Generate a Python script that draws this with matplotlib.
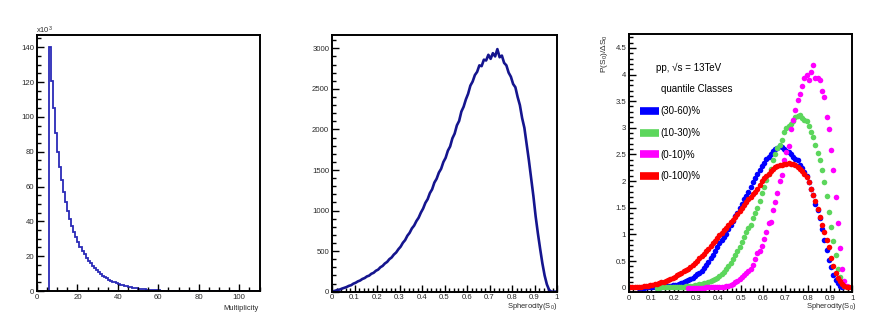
import numpy as np
import matplotlib
matplotlib.use("Agg")
import matplotlib.pyplot as plt
from matplotlib.ticker import MultipleLocator
from matplotlib.lines import Line2D

plt.rcParams['font.family'] = ['Liberation Sans', 'DejaVu Sans']
plt.rcParams['mathtext.fontset'] = 'custom'
plt.rcParams['mathtext.rm'] = 'Liberation Sans'
plt.rcParams['mathtext.it'] = 'Liberation Sans'

nan = np.nan

# ---------------- Panel 1: multiplicity histogram (x10^3) ----------------
mult_edges_start = 6
mult_counts = [140, 120.5, 105, 91, 80, 71, 63.5, 57, 51, 46, 41.5, 37.5, 34, 31, 28,
               25.5, 23, 21, 19, 17.5, 16, 14.5, 13.2, 12, 10.8, 9.8, 8.9, 8.1, 7.3,
               6.6, 6.0, 5.4, 4.9, 4.4, 4.0, 3.6, 3.2, 2.9, 2.6, 2.3, 2.1, 1.9, 1.7,
               1.5, 1.3, 1.15, 1.0, 0.9, 0.8, 0.7, 0.6, 0.52, 0.45, 0.38, 0.32, 0.27,
               0.23, 0.19, 0.16, 0.13, 0.11, 0.09, 0.07, 0.05, 0.04]

# ---------------- Panel 2: spherocity histogram ----------------
sph_counts = [5, 12, 22, 27, 39, 48, 58, 72, 80, 99,
              110, 127, 138, 157, 168, 188, 198, 221, 233, 258,
              272, 301, 318, 348, 367, 401, 422, 458, 483, 523,
              555, 603, 636, 690, 726, 780, 815, 870, 912, 975,
              1025, 1095, 1140, 1215, 1262, 1345, 1392, 1468, 1515, 1598,
              1650, 1738, 1790, 1890, 1948, 2050, 2105, 2220, 2280, 2370,
              2440, 2540, 2590, 2670, 2710, 2790, 2780, 2860, 2850, 2920,
              2870, 2940, 2900, 2990, 2890, 2910, 2820, 2790, 2700, 2650,
              2560, 2520, 2400, 2300, 2140, 2020, 1820, 1620, 1400, 1180,
              930, 720, 530, 350, 200, 90, 22, 0, 0, 0]

# ---------------- Panel 3: normalised spherocity per quantile class ----------------
nbins3 = 100
blue_3060 = [nan, nan, nan, nan, 0.002, 0.003, 0.004, 0.005, 0.006, 0.008,
             0.010, 0.012, 0.014, 0.017, 0.020, 0.024, 0.028, 0.032, 0.037, 0.042,
             0.050, 0.058, 0.068, 0.080, 0.100, 0.120, 0.140, 0.165, 0.190, 0.220,
             0.250, 0.280, 0.320, 0.370, 0.420, 0.480, 0.550, 0.620, 0.690, 0.760,
             0.830, 0.900, 0.960, 1.010, 1.100, 1.180, 1.260, 1.340, 1.410, 1.500,
             1.580, 1.660, 1.730, 1.800, 1.890, 1.980, 2.060, 2.130, 2.200, 2.280,
             2.340, 2.420, 2.460, 2.510, 2.560, 2.600, 2.630, 2.650, 2.640, 2.610,
             2.570, 2.540, 2.500, 2.460, 2.420, 2.390, 2.310, 2.250, 2.180, 2.100,
             1.980, 1.860, 1.740, 1.580, 1.450, 1.300, 1.100, 0.900, 0.700, 0.520,
             0.380, 0.240, 0.140, 0.080, 0.030, 0.010, nan, nan, nan, nan]
green_1030 = [nan] * 12 + [
             0.003, 0.004, 0.005, 0.006, 0.007, 0.008, 0.009, 0.010,
             0.011, 0.012, 0.015, 0.018, 0.022, 0.026, 0.030, 0.035, 0.040, 0.046,
             0.055, 0.062, 0.072, 0.082, 0.094, 0.105, 0.120, 0.140, 0.165, 0.190,
             0.220, 0.255, 0.290, 0.350, 0.410, 0.470, 0.540, 0.610, 0.690, 0.770,
             0.850, 0.950, 1.050, 1.120, 1.170, 1.300, 1.400, 1.500, 1.620, 1.780,
             1.890, 2.020, 2.130, 2.230, 2.400, 2.500, 2.620, 2.680, 2.770, 2.920,
             3.000, 3.030, 3.080, 3.120, 3.200, 3.230, 3.240, 3.180, 3.140, 3.120,
             3.030, 2.920, 2.820, 2.670, 2.530, 2.390, 2.210, 1.980, 1.730, 1.430,
             1.140, 0.870, 0.610, 0.360, 0.200, 0.080, 0.030, 0.010, nan, nan]
magenta_010 = [nan] * 26 + [
             0.002, 0.002, 0.002, 0.003,
             0.003, 0.003, 0.004, 0.004, 0.005, 0.006, 0.007, 0.008, 0.009, 0.011,
             0.013, 0.016, 0.019, 0.025, 0.035, 0.050, 0.075, 0.100, 0.130, 0.160,
             0.200, 0.230, 0.280, 0.320, 0.360, 0.420, 0.530, 0.660, 0.680, 0.790,
             0.920, 1.040, 1.210, 1.230, 1.450, 1.610, 1.780, 2.000, 2.110, 2.400,
             2.550, 2.650, 2.970, 3.140, 3.330, 3.520, 3.630, 3.780, 3.940, 3.990,
             3.900, 4.050, 4.180, 3.930, 3.930, 3.900, 3.690, 3.570, 3.200, 2.970,
             2.590, 2.200, 1.710, 1.210, 0.740, 0.360, 0.120, 0.030, nan, nan]
red_0100 = [0.005, 0.008, 0.010, 0.013, 0.016, 0.020, 0.025, 0.030, 0.037, 0.045,
            0.053, 0.062, 0.075, 0.090, 0.100, 0.115, 0.130, 0.150, 0.170, 0.190,
            0.210, 0.230, 0.255, 0.280, 0.305, 0.330, 0.360, 0.390, 0.430, 0.470,
            0.510, 0.550, 0.590, 0.640, 0.680, 0.730, 0.780, 0.830, 0.880, 0.930,
            0.980, 1.030, 1.080, 1.130, 1.180, 1.230, 1.280, 1.330, 1.380, 1.440,
            1.500, 1.560, 1.610, 1.660, 1.710, 1.760, 1.800, 1.850, 1.930, 2.000,
            2.050, 2.100, 2.140, 2.190, 2.230, 2.260, 2.280, 2.300, 2.310, 2.320,
            2.330, 2.340, 2.330, 2.320, 2.300, 2.270, 2.230, 2.190, 2.140, 2.080,
            1.980, 1.860, 1.740, 1.620, 1.480, 1.320, 1.170, 1.040, 0.900, 0.760,
            0.560, 0.400, 0.270, 0.190, 0.130, 0.070, 0.030, 0.015, 0.010, nan]

series_labels = ['(30-60)%', '(10-30)%', '(0-10)%', '(0-100)%']
series_colors = ['#0000ff', '#5cd65c', '#ff00ff', '#ff0000']
series_values = [blue_3060, green_1030, magenta_010, red_0100]

# ---------------- figure ----------------
W, H = 889, 327
fig = plt.figure(figsize=(W / 100, H / 100), dpi=100)


def fx(x):
    return x / W


def fy(y):
    return 1 - y / H


def make_ax(l, t, r, b):
    return fig.add_axes([fx(l), fy(b), fx(r) - fx(l), fy(t) - fy(b)])


tick_fs = 5.6
tick_col = '#2a2a2a'


def style(ax):
    for s in ax.spines.values():
        s.set_linewidth(1.4)
        s.set_color('black')
    ax.tick_params(which='both', direction='in', top=False, right=False,
                   labelsize=tick_fs, labelcolor=tick_col, width=1.0, pad=2)
    ax.tick_params(which='major', length=5)
    ax.tick_params(which='minor', length=2.6)


# Panel 1
ax1 = make_ax(37, 35, 259.5, 291)
edges1 = np.arange(mult_edges_start, mult_edges_start + len(mult_counts) + 1)
ax1.stairs(mult_counts, edges1, color='#2b2bb8', lw=1.3, baseline=0)
ax1.plot([edges1[-1], 110], [0, 0], color='#2b2bb8', lw=1.3)
ax1.set_xlim(0, 110)
ax1.set_ylim(0, 147)
ax1.xaxis.set_major_locator(MultipleLocator(20))
ax1.xaxis.set_minor_locator(MultipleLocator(5))
ax1.yaxis.set_major_locator(MultipleLocator(20))
ax1.yaxis.set_minor_locator(MultipleLocator(5))
style(ax1)
fig.text(fx(36), fy(33), r'x10$^{3}$', fontsize=5.4, color=tick_col, ha='left', va='baseline')
fig.text(fx(259), fy(308), 'Multiplicity', fontsize=5.4, color=tick_col, ha='right', va='center')

# Panel 2
ax2 = make_ax(332, 35, 557, 291.7)
centers2 = (np.arange(len(sph_counts)) + 0.5) / len(sph_counts)
ax2.plot(centers2, sph_counts, color='#15158e', lw=1.9)
ax2.set_xlim(0, 1)
ax2.set_ylim(0, 3164)
ax2.xaxis.set_major_locator(MultipleLocator(0.1))
ax2.xaxis.set_minor_locator(MultipleLocator(0.02))
ax2.yaxis.set_major_locator(MultipleLocator(500))
ax2.yaxis.set_minor_locator(MultipleLocator(100))
ax2.xaxis.set_major_formatter(lambda v, p: ('%g' % round(v, 2)))
style(ax2)
fig.text(fx(557), fy(306), r'Spherocity(S$_{0}$)', fontsize=5.4, color=tick_col, ha='right', va='center')

# Panel 3
ax3 = make_ax(629, 34, 852.3, 292)
centers3 = (np.arange(nbins3) + 0.5) / nbins3
for vals, col in zip(series_values, series_colors):
    ax3.plot(centers3, vals, 'o', color=col, ms=4.0, mew=0, ls='none')
ax3.set_xlim(0, 1)
ax3.set_ylim(-0.08, 4.76)
ax3.xaxis.set_major_locator(MultipleLocator(0.1))
ax3.xaxis.set_minor_locator(MultipleLocator(0.02))
ax3.yaxis.set_major_locator(MultipleLocator(0.5))
ax3.yaxis.set_minor_locator(MultipleLocator(0.1))
ax3.xaxis.set_major_formatter(lambda v, p: ('%g' % round(v, 2)))
ax3.yaxis.set_major_formatter(lambda v, p: ('%g' % round(v, 2)))
style(ax3)
fig.text(fx(856), fy(307), r'Spherocity(S$_{0}$)', fontsize=5.4, color=tick_col, ha='right', va='center')
fig.text(fx(605), fy(34), r'P(S$_{0}$)/$\Delta$S$_{0}$', fontsize=6.0, color=tick_col,
         rotation=90, ha='center', va='top')

fig.text(fx(656), fy(68), 'pp, \u221as = 13TeV', fontsize=7.0, color='black', ha='left', va='center')
fig.text(fx(661), fy(89), 'quantile Classes', fontsize=7.0, color='black', ha='left', va='center')

handles = [Line2D([], [], color=c, lw=5.5, solid_capstyle='butt') for c in series_colors]
ax3.legend(handles, series_labels, loc='upper left',
           bbox_to_anchor=(fx(640), fy(106.5)), bbox_transform=fig.transFigure,
           frameon=False, borderpad=0, borderaxespad=0, fontsize=7.0,
           handlelength=2.0, handletextpad=0.1, labelspacing=1.2)

fig.savefig('out.png', dpi=100)
